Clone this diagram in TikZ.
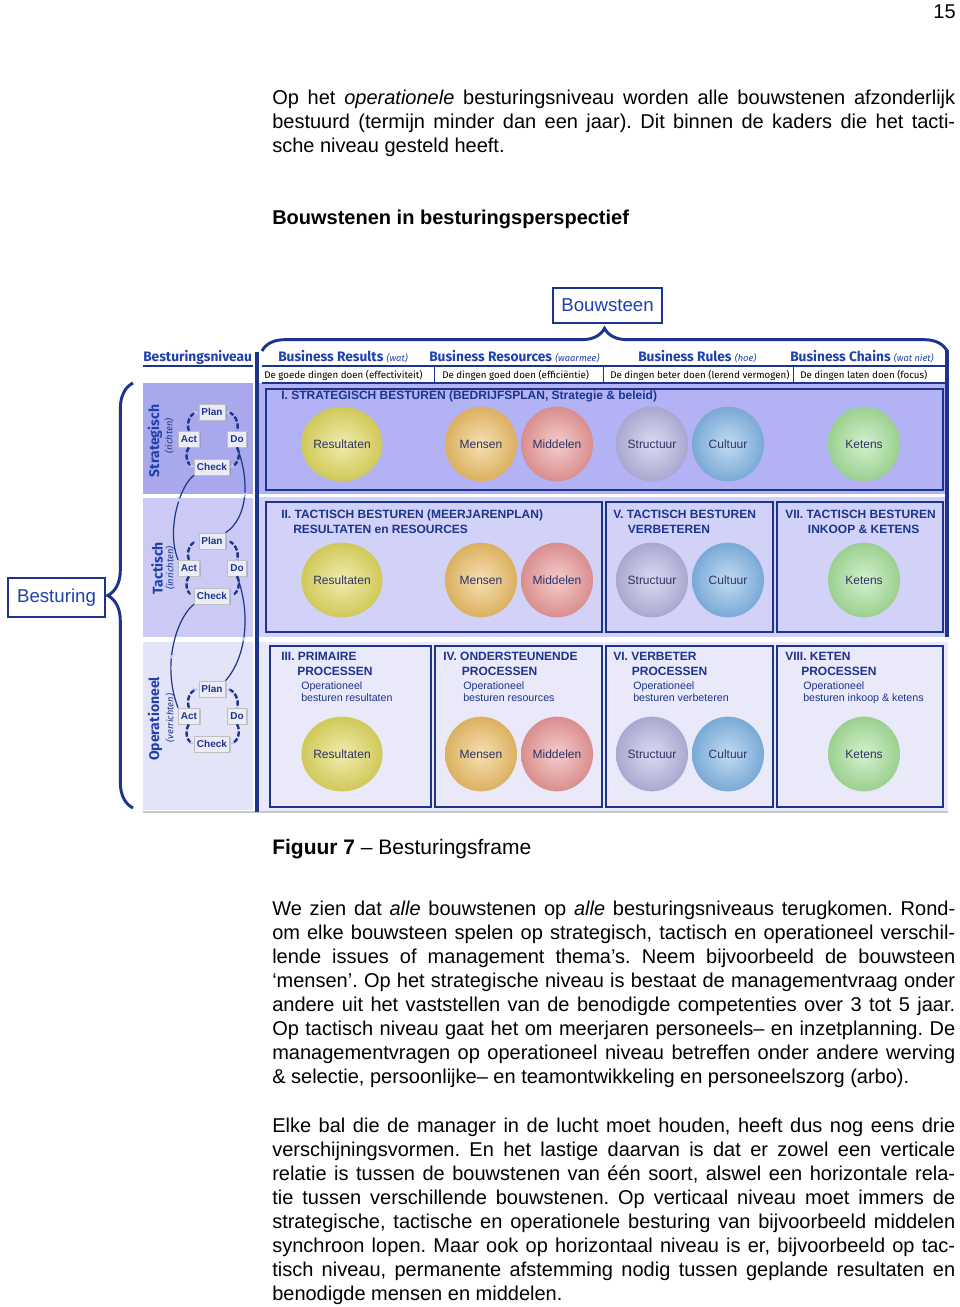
\documentclass[tikz,border=0pt]{standalone}
\usepackage{fontspec}
\setmainfont{Liberation Sans}
\newfontfamily\comicfont{Fira Sans}
\usetikzlibrary{shapes.geometric,decorations.pathreplacing,decorations.markings,shadows,arrows.meta}

\definecolor{navy}{RGB}{28,52,140}
\definecolor{hdrblue}{RGB}{32,64,172}
\definecolor{tipc}{RGB}{200,200,236}
\definecolor{rowA}{RGB}{178,178,245}
\definecolor{rowB}{RGB}{210,210,248}
\definecolor{rowC}{RGB}{233,233,250}
\definecolor{bandA}{RGB}{168,168,236}
\definecolor{bandB}{RGB}{202,202,244}
\definecolor{bandC}{RGB}{228,228,248}
\definecolor{pdcafill}{RGB}{236,236,246}
\definecolor{balltext}{RGB}{45,50,100}
\definecolor{balRes}{RGB}{226,218,96}
\definecolor{balMen}{RGB}{238,192,104}
\definecolor{balMid}{RGB}{236,154,154}
\definecolor{balStr}{RGB}{184,182,226}
\definecolor{balCul}{RGB}{132,184,232}
\definecolor{balKet}{RGB}{168,226,156}
\newcommand\hintfont{\comicfont\fontsize{7}{8}\selectfont\mdseries\itshape}
\frenchspacing

\begin{document}
\begin{tikzpicture}[x=0.75pt,y=-0.75pt,pale/.tip={Stealth[length=4pt,width=3.5pt,color=tipc]}]
\tikzstyle{ball}=[ellipse,minimum width=54pt,minimum height=56pt,inner sep=0pt,font=\fontsize{9}{10}\selectfont,text=balltext]
\tikzstyle{pdca}=[draw=gray!50,fill=pdcafill,drop shadow={shadow xshift=1pt,shadow yshift=-1pt,opacity=0.35},font=\fontsize{7.5}{8}\selectfont\bfseries,text=navy,inner sep=2pt,minimum height=12pt]
\tikzstyle{cyc}=[navy,line width=1.8pt,dash pattern=on 4pt off 1.5pt]
\tikzstyle{link}=[navy,line width=0.9pt]
\tikzstyle{frame}=[draw=navy,line width=2.2pt]
\tikzstyle{title}=[anchor=north west,inner sep=0pt,align=left,text=navy,font=\fontsize{9}{11}\selectfont\bfseries]
\tikzstyle{subtitle}=[anchor=north west,inner sep=0pt,align=left,text=navy,font=\fontsize{8}{9}\selectfont]
\tikzstyle{body}=[anchor=north west,inner sep=0pt,text width=512.25pt,align=justify,font=\fontsize{15}{18}\selectfont]
\tikzstyle{hdr}=[anchor=west,inner sep=0pt,text=hdrblue,font=\comicfont\fontsize{10.3}{12}\selectfont\bfseries]
\tikzstyle{sub}=[anchor=west,inner sep=0pt,text=black,font=\comicfont\fontsize{7.3}{8}\selectfont]
\tikzstyle{level}=[rotate=90,inner sep=0pt,text=hdrblue,font=\comicfont\fontsize{10.5}{12}\selectfont\bfseries]
\tikzstyle{levelsub}=[rotate=90,inner sep=0pt,text=navy,font=\comicfont\fontsize{7}{8}\selectfont\itshape]
\tikzstyle{labelbox}=[draw=navy,line width=2.2pt,text=hdrblue,font=\fontsize{14}{16}\selectfont,inner sep=0pt]
\tikzstyle{midtip}=[postaction={decorate},decoration={markings,mark=at position #1 with {\arrow{pale}}}]

\useasboundingbox[fill=white] (0,0) rectangle (960,1307);

% tekst boven
\node[anchor=east,inner sep=0pt,font=\fontsize{15}{18}\selectfont] (pagenr) at (956,12) {15};
\node[body] (par1) at (272,90) {Op het \textit{operationele} besturingsniveau worden alle bouwstenen afzonderlijk \linebreak bestuurd (termijn minder dan een jaar). Dit binnen de kaders die het tacti-\linebreak sche niveau gesteld heeft.};
\node[anchor=base west,inner sep=0pt,font=\fontsize{15}{18}\selectfont\bfseries] (kop) at (272,224) {Bouwstenen in besturingsperspectief};

% achtergronden
\fill[bandA] (143,383) rectangle (253,494);
\fill[bandB] (143,498) rectangle (253,637);
\fill[bandC] (143,642) rectangle (253,810);
\fill[rowA] (259,383) rectangle (948,494);
\fill[rowB] (259,497) rectangle (948,637);
\fill[rowC] (259,642) rectangle (948,811);
\draw[gray!45,line width=1pt] (143,812) -- (948,812);

% kaders
\draw[frame] (266,389) rectangle (943,490);
\draw[frame] (266,502) rectangle (602,632);
\draw[frame] (606,502) rectangle (773,632);
\draw[frame] (777,502) rectangle (943,632);
\draw[frame] (270,646) rectangle (431,807);
\draw[frame] (435,646) rectangle (602,807);
\draw[frame] (606,646) rectangle (773,807);
\draw[frame] (777,646) rectangle (943,807);
\draw[navy,line width=3pt] (257,352) -- (257,812);
\draw[navy,line width=3pt] (947,350) -- (947,637);

% kopregel
\draw[navy,line width=1pt] (143,366) -- (253,366);
\draw[navy,line width=1pt] (262,366) -- (945,366);
\draw[navy,line width=0.8pt] (262,383) -- (945,383);
\foreach \x in {434,603,793}
  \draw[navy,line width=0.6pt] (\x,367) -- (\x,383);
\node[hdr] (niveau) at (143,357) {Besturingsniveau};
\node[hdr] (results) at (278,357) {Business Results {\hintfont (wat)}};
\node[hdr] (resources) at (429,357) {Business Resources {\hintfont (waarmee)}};
\node[hdr] (rules) at (638,357) {Business Rules {\hintfont (hoe)}};
\node[hdr] (chains) at (790,357) {Business Chains {\hintfont (wat niet)}};
\node[sub] (effect) at (264,375) {De goede dingen doen (effectiviteit)};
\node[sub] (effic) at (442,375) {De dingen goed doen (efficiëntie)};
\node[sub] (lerend) at (610,375) {De dingen beter doen (lerend vermogen)};
\node[sub] (focus) at (800,375) {De dingen laten doen (focus)};

% accolades
\draw[navy,line width=2.2pt,decorate,decoration={brace,amplitude=17pt}] (262,351) -- (947,351);
\draw[navy,line width=2.2pt,decorate,decoration={brace,amplitude=19pt}] (133,808) -- (133,383);
\node[labelbox,minimum width=81.75pt,minimum height=26.25pt] (bouwsteen) at (607.5,305.5) {Bouwsteen};
\node[labelbox,minimum width=72.75pt,minimum height=29.25pt] (besturing) at (56.5,597.5) {Besturing};

% niveaus
\node[level] (strat) at (155,441) {Strategisch};
\node[levelsub] (richten) at (169,436) {(richten)};
\node[level] (tact) at (157,568) {Tactisch};
\node[levelsub] (inrichten) at (170,568) {(inrichten)};
\node[level] (oper) at (155,719) {Operationeel};
\node[levelsub] (verrichten) at (170,718) {(verrichten)};

% PDCA
\foreach \lvl/\y in {1/439,2/568,3/716}{
  \node[pdca] (plan\lvl) at (212,\y-27) {Plan};
  \node[pdca] (act\lvl) at (189,\y) {Act};
  \node[pdca] (do\lvl) at (237,\y) {Do};
  \node[pdca] (check\lvl) at (212,\y+28) {Check};
  \draw[cyc,-pale] (act\lvl.north) to[bend left=50] (plan\lvl.west);
  \draw[cyc,pale-] (plan\lvl.east) to[bend left=50] (do\lvl.north);
  \draw[cyc,-pale] (do\lvl.south) to[bend left=50] (check\lvl.east);
  \draw[cyc,pale-] (check\lvl.west) to[bend left=50] (act\lvl.south);
}
\draw[link,midtip=0.35] (check1.south west) .. controls (180,485) and (166,530) .. (act2.north west);
\draw[link,midtip=0.55] (do1.south) .. controls (250,480) and (248,518) .. (plan2.north east);
\draw[link,midtip=0.55] (check2.south west) .. controls (180,614) and (160,660) .. (act3.north west);
\draw[link,midtip=0.6] (do2.south) .. controls (250,610) and (248,655) .. (plan3.north east);

% bouwstenen
\foreach \row/\y in {1/444,2/580,3/754}
  \foreach \name/\x/\col/\txt in {res/342/balRes/Resultaten,men/481/balMen/Mensen,mid/557/balMid/Middelen,str/652/balStr/Structuur,cul/728/balCul/Cultuur,ket/864/balKet/Ketens}
    \node[ball,inner color=\col!50!white,outer color=\col!92!black] (\name\row) at (\x,\y) {\txt};

% titels
\node[title] (t1) at (281,391) {I. STRATEGISCH BESTUREN (BEDRIJFSPLAN, Strategie \& beleid)};
\node[title] (t2) at (281,510) {II. TACTISCH BESTUREN (MEERJARENPLAN)\\\hspace*{9pt}RESULTATEN en RESOURCES};
\node[title] (t5) at (613,510) {V. TACTISCH BESTUREN\\\hspace*{11pt}VERBETEREN};
\node[title] (t7) at (785,510) {VII. TACTISCH BESTUREN\\\hspace*{17pt}INKOOP \& KETENS};
\node[title] (t3) at (281,652) {III. PRIMAIRE\\\hspace*{12pt}PROCESSEN};
\node[title] (t4) at (443,652) {IV. ONDERSTEUNENDE\\\hspace*{14pt}PROCESSEN};
\node[title] (t6) at (613,652) {VI. VERBETER\\\hspace*{14pt}PROCESSEN};
\node[title] (t8) at (785,652) {VIII. KETEN\\\hspace*{12pt}PROCESSEN};
\node[subtitle] (s3) at (301,681) {Operationeel\\besturen resultaten};
\node[subtitle] (s4) at (463,681) {Operationeel\\besturen resources};
\node[subtitle] (s6) at (633,681) {Operationeel\\besturen verbeteren};
\node[subtitle] (s8) at (803,681) {Operationeel\\besturen inkoop \& ketens};

% tekst onder
\node[anchor=base west,inner sep=0pt,font=\fontsize{15.75}{18}\selectfont] (caption) at (272,854) {\textbf{Figuur 7} – Besturingsframe};
\node[body] (par2) at (272,901) {We zien dat \textit{alle} bouwstenen op \textit{alle} besturingsniveaus terugkomen. Rond-\linebreak om elke bouwsteen spelen op strategisch, tactisch en operationeel verschil-\linebreak lende issues of management thema’s. Neem bijvoorbeeld de bouwsteen \linebreak ‘mensen’. Op het strategische niveau is bestaat de managementvraag onder \linebreak andere uit het vaststellen van de benodigde competenties over 3 tot 5 jaar. \linebreak Op tactisch niveau gaat het om meerjaren personeels– en inzetplanning. De \linebreak managementvragen op operationeel niveau betreffen onder andere werving \linebreak \& selectie, persoonlijke– en teamontwikkeling en personeelszorg (arbo).};
\node[body] (par3) at (272,1118) {Elke bal die de manager in de lucht moet houden, heeft dus nog eens drie \linebreak verschijningsvormen. En het lastige daarvan is dat er zowel een verticale \linebreak relatie is tussen de bouwstenen van één soort, alswel een horizontale rela-\linebreak tie tussen verschillende bouwstenen. Op verticaal niveau moet immers de \linebreak strategische, tactische en operationele besturing van bijvoorbeeld middelen \linebreak synchroon lopen. Maar ook op horizontaal niveau is er, bijvoorbeeld op tac-\linebreak tisch niveau, permanente afstemming nodig tussen geplande resultaten en \linebreak benodigde mensen en middelen.};
\end{tikzpicture}
\end{document}
